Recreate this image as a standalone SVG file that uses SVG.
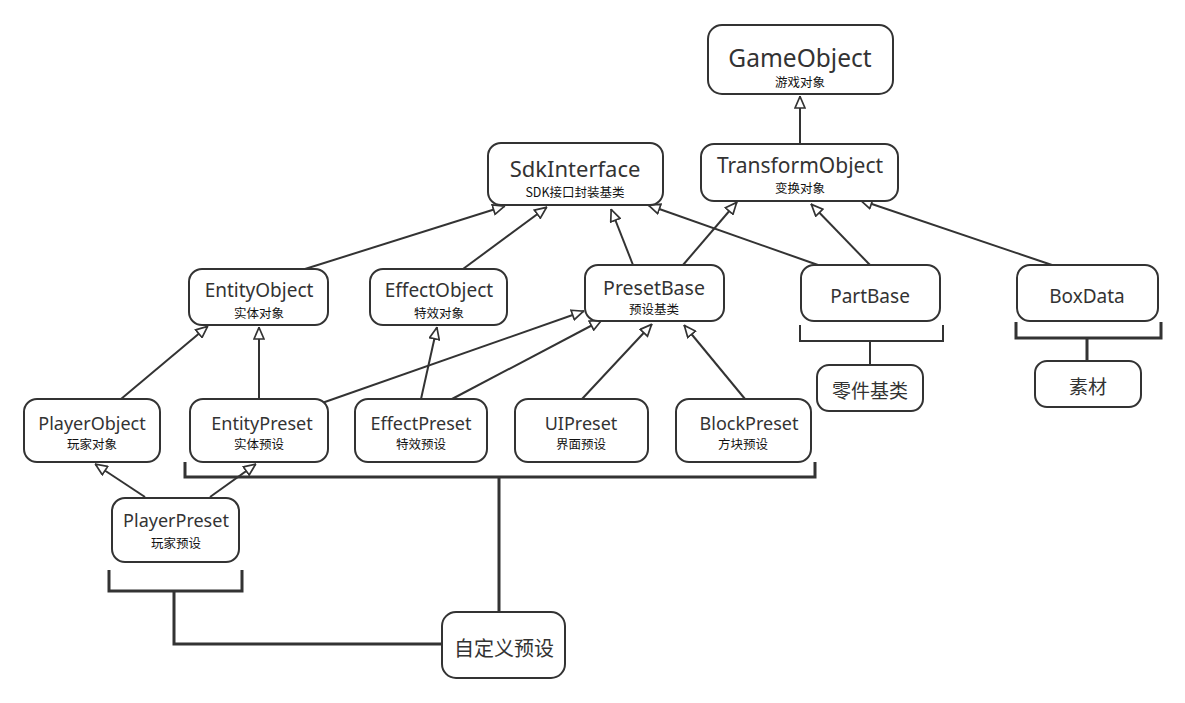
<svg xmlns="http://www.w3.org/2000/svg" width="1185" height="703" viewBox="0 0 1185 703">
<style>
.box{fill:#fff;stroke:#333;stroke-width:2}
.t{font-family:"Noto Sans","Noto Sans CJK SC",sans-serif;fill:#333;text-anchor:middle}
.s{font-family:"Noto Sans CJK SC",sans-serif;fill:#111;text-anchor:middle;font-size:12.5px}
.e{fill:none;stroke:#333;stroke-width:2}
.br{fill:none;stroke:#333;stroke-width:3}
</style>
<defs>
<marker id="tri" viewBox="0 0 13 12" markerWidth="13" markerHeight="12" refX="13" refY="6" orient="auto" markerUnits="userSpaceOnUse">
<path d="M1,1 L12.5,6 L1,11 Z" fill="#fff" stroke="#333" stroke-width="1.7"/>
</marker>
</defs>
<rect width="1185" height="703" fill="#fff"/>
<g id="connectors">
<line class="e" x1="800" y1="144" x2="800" y2="96" marker-end="url(#tri)"/>
<line class="e" x1="305" y1="269" x2="505" y2="206" marker-end="url(#tri)"/>
<line class="e" x1="463" y1="269" x2="547" y2="207" marker-end="url(#tri)"/>
<line class="e" x1="633" y1="265" x2="611" y2="209" marker-end="url(#tri)"/>
<line class="e" x1="818" y1="265" x2="648" y2="205" marker-end="url(#tri)"/>
<line class="e" x1="683" y1="265" x2="737" y2="202" marker-end="url(#tri)"/>
<line class="e" x1="870" y1="265" x2="811" y2="204" marker-end="url(#tri)"/>
<line class="e" x1="1052" y1="265" x2="860" y2="200" marker-end="url(#tri)"/>
<line class="e" x1="121" y1="399" x2="208" y2="326" marker-end="url(#tri)"/>
<line class="e" x1="259" y1="399" x2="259" y2="327" marker-end="url(#tri)"/>
<line class="e" x1="322" y1="403" x2="584" y2="311" marker-end="url(#tri)"/>
<line class="e" x1="421" y1="399" x2="437" y2="327" marker-end="url(#tri)"/>
<line class="e" x1="452" y1="399" x2="602" y2="320" marker-end="url(#tri)"/>
<line class="e" x1="582" y1="399" x2="652" y2="324" marker-end="url(#tri)"/>
<line class="e" x1="745" y1="399" x2="684" y2="325" marker-end="url(#tri)"/>
<line class="e" x1="145" y1="497" x2="95" y2="464" marker-end="url(#tri)"/>
<line class="e" x1="210" y1="497" x2="256" y2="464" marker-end="url(#tri)"/>
<path class="e" d="M800,325 V341 H943 V325 M870,341 V365"/>
<path class="br" d="M1016,322 V338 H1161 V322 M1087,338 V361"/>
<path class="br" d="M185,462 V477 H815 V462 M499,477 V612"/>
<path class="br" d="M109,570 V591 H242 V570 M174,591 V644 H442"/>
</g>
<g id="GameObject"><rect class="box" x="708" y="25" width="185" height="69" rx="14"/><text class="t" x="800" y="67" font-size="24.5">GameObject</text><text class="s" x="800" y="87">游戏对象</text></g>
<g id="TransformObject"><rect class="box" x="701" y="144" width="197" height="57" rx="13"/><text class="t" x="800" y="173" font-size="21">TransformObject</text><text class="s" x="800" y="193">变换对象</text></g>
<g id="SdkInterface"><rect class="box" x="488" y="143" width="175" height="62" rx="13"/><text class="t" x="575" y="177" font-size="22">SdkInterface</text><text class="s" x="575" y="197">SDK接口封装基类</text></g>
<g id="EntityObject"><rect class="box" x="189" y="269" width="139" height="56" rx="13"/><text class="t" x="259" y="297" font-size="19">EntityObject</text><text class="s" x="259" y="318">实体对象</text></g>
<g id="EffectObject"><rect class="box" x="370" y="269" width="137" height="56" rx="13"/><text class="t" x="439" y="297" font-size="19">EffectObject</text><text class="s" x="439" y="318">特效对象</text></g>
<g id="PresetBase"><rect class="box" x="585" y="265" width="139" height="56" rx="13"/><text class="t" x="654" y="295" font-size="19.5">PresetBase</text><text class="s" x="654" y="314">预设基类</text></g>
<g id="PartBase"><rect class="box" x="801" y="265" width="139" height="56" rx="13"/><text class="t" x="870" y="303" font-size="19">PartBase</text></g>
<g id="BoxData"><rect class="box" x="1017" y="265" width="141" height="56" rx="13"/><text class="t" x="1087" y="303" font-size="19">BoxData</text></g>
<g id="PlayerObject"><rect class="box" x="24" y="399" width="136" height="63" rx="13"/><text class="t" x="92" y="430" font-size="18">PlayerObject</text><text class="s" x="92" y="449">玩家对象</text></g>
<g id="EntityPreset"><rect class="box" x="190" y="399" width="138" height="63" rx="13"/><text class="t" x="262" y="430" font-size="18">EntityPreset</text><text class="s" x="259" y="449">实体预设</text></g>
<g id="EffectPreset"><rect class="box" x="355" y="399" width="132" height="63" rx="13"/><text class="t" x="421" y="430" font-size="18">EffectPreset</text><text class="s" x="421" y="449">特效预设</text></g>
<g id="UIPreset"><rect class="box" x="515" y="399" width="133" height="63" rx="13"/><text class="t" x="581" y="430" font-size="18">UIPreset</text><text class="s" x="581" y="449">界面预设</text></g>
<g id="BlockPreset"><rect class="box" x="676" y="399" width="135" height="63" rx="13"/><text class="t" x="749" y="430" font-size="18">BlockPreset</text><text class="s" x="743" y="449">方块预设</text></g>
<g id="PlayerPreset"><rect class="box" x="112" y="498" width="127" height="64" rx="13"/><text class="t" x="176" y="527" font-size="18">PlayerPreset</text><text class="s" x="176" y="548">玩家预设</text></g>
<g id="part-label"><rect class="box" x="817" y="365" width="106" height="46" rx="12"/><text class="t" x="870" y="398" font-size="19">零件基类</text></g>
<g id="material-label"><rect class="box" x="1035" y="361" width="106" height="46" rx="12"/><text class="t" x="1088" y="394" font-size="19">素材</text></g>
<g id="custom-preset"><rect class="box" x="442" y="612" width="123" height="66" rx="14"/><text class="t" x="504" y="656" font-size="20">自定义预设</text></g>
</svg>
